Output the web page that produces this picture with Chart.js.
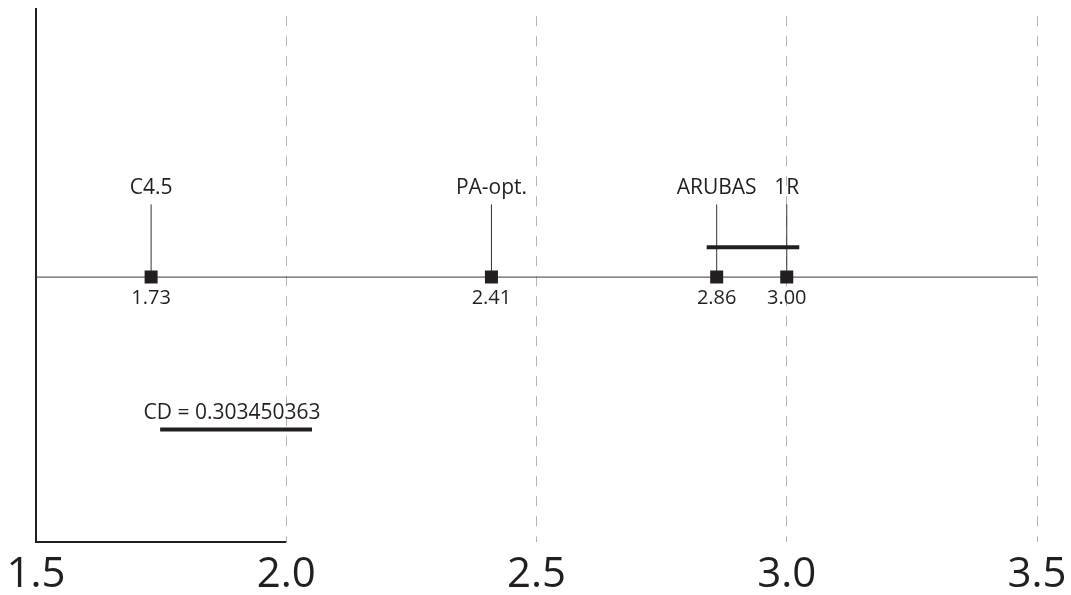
<!DOCTYPE html>
<html>
<head>
<meta charset="utf-8">
<title>Critical difference diagram</title>
<script src="https://cdn.jsdelivr.net/npm/chart.js@4.4.1/dist/chart.umd.min.js"></script>
<style>
  html, body { margin: 0; padding: 0; background: #ffffff; }
  #wrap { position: relative; width: 1071px; height: 595px; }
</style>
</head>
<body>
<div id="wrap"><canvas id="cd"></canvas></div>
<script>
// Average ranks of the compared methods
const methods = ['C4.5', 'PA-opt.', 'ARUBAS', '1R'];
const ranks = [1.73, 2.41, 2.86, 3.00];

// Rank axis tick labels
const rankTicks = [1.5, 2.0, 2.5, 3.0, 3.5];

// Critical difference and where its reference bar begins
const criticalDifference = 0.303450363;
const cdBarStart = 1.748;

// Groups of methods that are not significantly different (start, end)
const cliqueStarts = [2.84];
const cliqueEnds = [3.025];

// Vertical levels used on the hidden y scale (units above the plot floor)
const LEVEL = {
  axis: 266,
  stemTop: 339,
  name: 349,
  value: 239,
  clique: 296,
  cdText: 124,
  cdBar: 113
};

const INK = '#231f20';

const datasets = [];

// main rank line
datasets.push({
  data: [{ x: rankTicks[0], y: LEVEL.axis }, { x: rankTicks[rankTicks.length - 1], y: LEVEL.axis }],
  borderColor: '#3c3c3c', borderWidth: 1, pointRadius: 0, order: 5
});

// stems from each method's rank up to its name
ranks.forEach(r => {
  datasets.push({
    data: [{ x: r, y: LEVEL.axis }, { x: r, y: LEVEL.stemTop }],
    borderColor: '#333333', borderWidth: 1, pointRadius: 0, order: 4
  });
});

// clique bars
cliqueStarts.forEach((s, i) => {
  datasets.push({
    data: [{ x: s, y: LEVEL.clique }, { x: cliqueEnds[i], y: LEVEL.clique }],
    borderColor: INK, borderWidth: 4, pointRadius: 0, order: 3
  });
});

// critical difference reference bar
datasets.push({
  data: [{ x: cdBarStart, y: LEVEL.cdBar }, { x: cdBarStart + criticalDifference, y: LEVEL.cdBar }],
  borderColor: INK, borderWidth: 4, pointRadius: 0, order: 3
});

// short floor segment under the first interval
datasets.push({
  data: [{ x: rankTicks[0], y: 0 }, { x: rankTicks[1], y: 0 }],
  borderColor: INK, borderWidth: 2, pointRadius: 0, clip: false, order: 3
});

// rank markers
datasets.push({
  data: ranks.map(r => ({ x: r, y: LEVEL.axis })),
  showLine: false,
  pointStyle: 'rect',
  pointRadius: 9.2,
  pointHoverRadius: 9.2,
  pointBackgroundColor: INK,
  pointBorderColor: INK,
  pointBorderWidth: 0,
  order: 1
});

// method names, rank values and the CD caption
const annotations = {
  id: 'annotations',
  afterDatasetsDraw(chart) {
    const { ctx, scales: { x, y } } = chart;
    ctx.save();
    ctx.fillStyle = INK;
    ctx.textAlign = 'center';
    ctx.textBaseline = 'alphabetic';
    methods.forEach((m, i) => {
      ctx.font = '21px "Open Sans"';
      ctx.fillText(m, x.getPixelForValue(ranks[i]), y.getPixelForValue(LEVEL.name));
      ctx.font = '20px "Open Sans"';
      ctx.fillText(ranks[i].toFixed(2), x.getPixelForValue(ranks[i]), y.getPixelForValue(LEVEL.value));
    });
    ctx.font = '21px "Open Sans"';
    ctx.fillText('CD = ' + criticalDifference,
      x.getPixelForValue(cdBarStart + criticalDifference / 2) - 4,
      y.getPixelForValue(LEVEL.cdText));
    ctx.restore();
  }
};

Chart.defaults.font.family = '"Open Sans", sans-serif';
Chart.defaults.color = INK;

new Chart(document.getElementById('cd'), {
  type: 'line',
  data: { datasets },
  options: {
    responsive: true,
    maintainAspectRatio: false,
    animation: false,
    events: [],
    layout: { padding: { left: 28, right: 34, top: 7, bottom: 0 } },
    plugins: { legend: { display: false }, tooltip: { enabled: false } },
    scales: {
      x: {
        type: 'linear',
        min: rankTicks[0],
        max: rankTicks[rankTicks.length - 1],
        afterBuildTicks: scale => { scale.ticks = rankTicks.map(v => ({ value: v })); },
        afterFit: scale => {
          scale.height = 53;
          scale.paddingLeft = 0;
          scale.paddingRight = 0;
        },
        ticks: {
          callback: v => Number(v).toFixed(1),
          font: { size: 42 },
          color: INK,
          padding: 8,
          maxRotation: 0,
          autoSkip: false
        },
        grid: {
          drawTicks: false,
          color: ctx => (ctx.tick && ctx.tick.value === rankTicks[0]) ? 'rgba(0,0,0,0)' : '#b3b3b3',
          lineWidth: 1
        },
        border: { display: false, dash: [10, 10], dashOffset: 13 }
      },
      y: {
        type: 'linear',
        min: 0,
        max: 535,
        ticks: { display: false },
        grid: { display: false },
        border: { display: true, color: INK, width: 2 }
      }
    }
  },
  plugins: [annotations]
});
</script>
</body>
</html>
